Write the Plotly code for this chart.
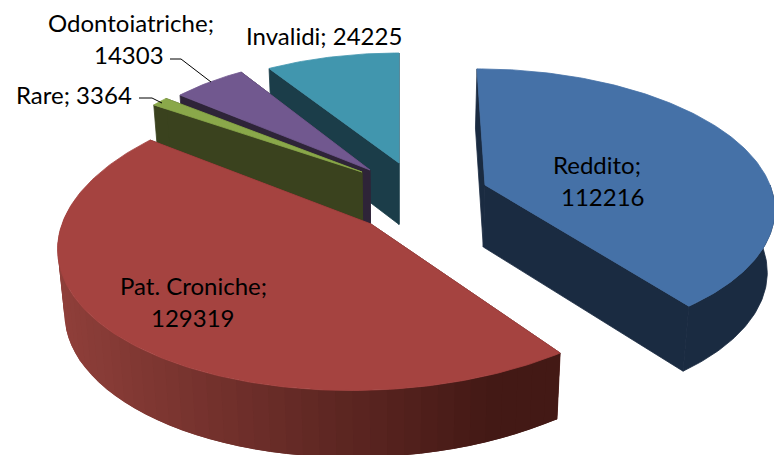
import math
import plotly.graph_objects as go

categories = ["Reddito", "Pat. Croniche", "Rare", "Odontoiatriche", "Invalidi"]
values = [112216, 129319, 3364, 14303, 24225]
top_colors = ["#4571A7", "#A54340", "#8AA84A", "#71588F", "#4196AE"]
wall_colors = ["#1A2B41", "#5A2320", "#3A421E", "#2E2438", "#1B3D49"]

# projection of each exploded slice: apex x, apex y, rx, ry, perspective, shear
projection = {
    "Reddito": (485, 185, 285, 134, 0.154, 8),
    "Pat. Croniche": (371, 224, 309, 149, 0.105, -20),
    "Rare": (362, 172, 260, 112, 0, 0),
    "Odontoiatriche": (370, 170, 252, 114, 0, 0),
    "Invalidi": (399, 163, 254, 110, 0, 0),
}
draw_order = ["Invalidi", "Odontoiatriche", "Rare", "Reddito", "Pat. Croniche"]

total = sum(values)
spans = {}
angle = 0.0
for name, val in zip(categories, values):
    spans[name] = (angle, angle + 360.0 * val / total)
    angle = spans[name][1]


def top_pt(name, theta):
    ax, ay, rx, ry, k, sh = projection[name]
    t = math.radians(theta)
    u, v = math.sin(t), -math.cos(t)
    s = 1 / (1 - k * v)
    return ax + rx * u * s + sh * v, ay + ry * v * s


def drop(p):
    x, y = p
    return x + (400 - x) * 0.02, y + 62 + 0.025 * (y - 185)


def lerp_hex(a, b, f):
    ca = [int(a[i:i + 2], 16) for i in (1, 3, 5)]
    cb = [int(b[i:i + 2], 16) for i in (1, 3, 5)]
    return "#" + "".join(f"{round(x + (y - x) * f):02X}" for x, y in zip(ca, cb))


def poly(fig, pts, color, name, width=0.8):
    xs = [p[0] for p in pts] + [pts[0][0]]
    ys = [p[1] for p in pts] + [pts[0][1]]
    fig.add_trace(go.Scatter(x=xs, y=ys, mode="lines", fill="toself", fillcolor=color,
                             line=dict(color=color, width=width), hoverinfo="skip",
                             showlegend=False, name=name))


fig = go.Figure()

for name in draw_order:
    i = categories.index(name)
    a0, a1 = spans[name]
    ax, ay = projection[name][:2]
    apex = (ax, ay)
    wall = wall_colors[i]
    # radial side faces
    for th in (a0, a1):
        p = top_pt(name, th)
        poly(fig, [apex, p, drop(p), drop(apex)], wall, name)
    # outer wall
    w0, w1 = max(a0, 90), min(a1, 280)
    if w1 > w0:
        if name == "Pat. Croniche":
            # shaded in bands, painted from the left end so each band overlaps the next
            n = 48
            for j in range(n):
                t0 = w1 - (w1 - w0) * j / n
                arc = [top_pt(name, max(w0, t0 - (w1 - w0) * q / n)) for q in range(3)]
                f = min(1, max(0, (arc[1][0] - 60) / 440))
                c = lerp_hex("#8F3F3A", "#431915", f)
                poly(fig, arc + [drop(p) for p in reversed(arc)], c, name, width=0)
        else:
            m = 60
            arc = [top_pt(name, w0 + (w1 - w0) * q / m) for q in range(m + 1)]
            poly(fig, arc + [drop(p) for p in reversed(arc)], wall, name)
    # top face
    steps = max(6, int(a1 - a0))
    rim = [top_pt(name, a0 + (a1 - a0) * j / steps) for j in range(steps + 1)]
    poly(fig, [apex] + rim, top_colors[i], name)

# leader lines
leaders = {
    "Odontoiatriche": ([170, 181, 211], [59, 59, 82]),
    "Rare": ([139, 152, 162], [98, 98, 103]),
}
for name, (lx, ly) in leaders.items():
    fig.add_trace(go.Scatter(x=lx, y=ly, mode="lines", line=dict(color="black", width=1),
                             hoverinfo="skip", showlegend=False))

# label lines: text, centre x, centre y
labels = [
    ("Reddito;", 597, 164), ("112216", 603, 196),
    ("Pat. Croniche;", 193, 285), ("129319", 193, 317),
    ("Odontoiatriche;", 131, 22), ("14303", 129, 54),
    ("Invalidi; 24225", 324, 35),
    ("Rare; 3364", 74, 94),
]
for text, x, y in labels:
    fig.add_annotation(x=x, y=y, text=text, showarrow=False, xref="x", yref="y",
                       xanchor="center", yanchor="middle",
                       font=dict(family="Lato", size=24, color="black"))

fig.update_xaxes(range=[0, 774], visible=False, fixedrange=True)
fig.update_yaxes(range=[455, 0], visible=False, fixedrange=True)
fig.update_layout(width=774, height=455, autosize=False,
                  margin=dict(l=0, r=0, t=0, b=0),
                  paper_bgcolor="white", plot_bgcolor="white", showlegend=False)
fig.write_html("out.html", config={"displayModeBar": False},
               post_script="document.body.style.margin='0';document.documentElement.style.overflow='hidden';")
